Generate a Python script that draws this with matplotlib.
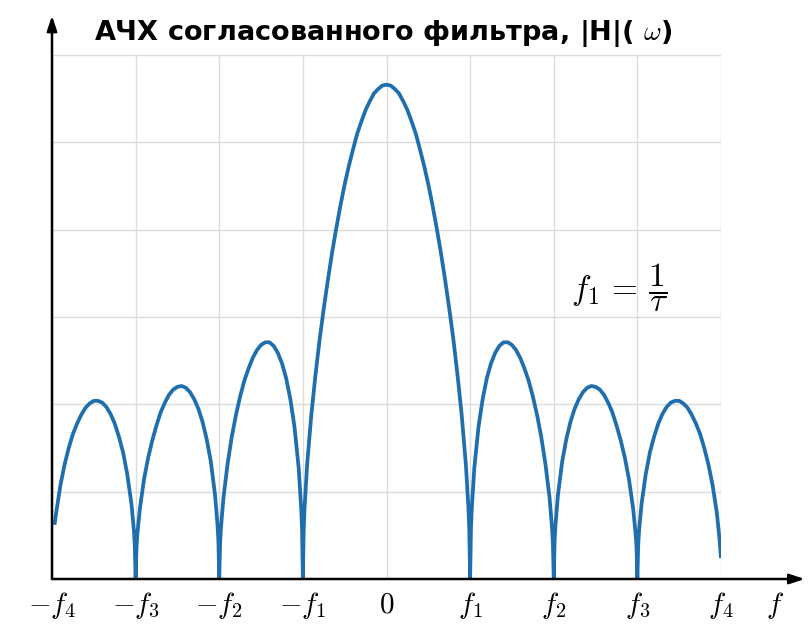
import matplotlib.pyplot as plt

plt.rcParams['mathtext.fontset'] = 'cm'

title = 'АЧХ согласованного фильтра, |H|( $\\omega$)'
tick_pos = [-4, -3, -2, -1, 0, 1, 2, 3, 4]
tick_labels = ['$-f_4$', '$-f_3$', '$-f_2$', '$-f_1$', '$0$',
               '$f_1$', '$f_2$', '$f_3$', '$f_4$']

# frequency in units of f1, amplitude in grid cells
f_left = [-3.97, -3.95, -3.9, -3.85, -3.8, -3.75, -3.7, -3.65, -3.6, -3.55,
          -3.5, -3.45, -3.4, -3.35, -3.3, -3.25, -3.2, -3.15, -3.1, -3.05,
          -3.02, -3.01, -3.0,
          -2.99, -2.98, -2.95, -2.9, -2.85, -2.8, -2.75, -2.7, -2.65, -2.6,
          -2.55, -2.5, -2.45, -2.4, -2.35, -2.3, -2.25, -2.2, -2.15, -2.1,
          -2.05, -2.02, -2.01, -2.0,
          -1.99, -1.98, -1.95, -1.9, -1.85, -1.8, -1.75, -1.7, -1.65, -1.6,
          -1.55, -1.5, -1.45, -1.4, -1.35, -1.3, -1.25, -1.2, -1.15, -1.1,
          -1.05, -1.02, -1.01, -1.0,
          -0.99, -0.98, -0.95, -0.9, -0.85, -0.8, -0.75, -0.7, -0.65, -0.6,
          -0.55, -0.5, -0.45, -0.4, -0.35, -0.3, -0.25, -0.2, -0.15, -0.1,
          -0.05]
h_left = [0.62, 0.76, 1.07, 1.31, 1.50, 1.66, 1.78, 1.88, 1.96, 2.01,
          2.04, 2.04, 2.02, 1.97, 1.89, 1.78, 1.63, 1.45, 1.20, 0.86,
          0.55, 0.39, 0.0,
          0.36, 0.51, 0.80, 1.14, 1.39, 1.59, 1.76, 1.91, 2.02, 2.11,
          2.17, 2.20, 2.21, 2.19, 2.14, 2.06, 1.95, 1.80, 1.60, 1.34,
          0.96, 0.61, 0.43, 0.0,
          0.41, 0.58, 0.93, 1.32, 1.63, 1.88, 2.09, 2.27, 2.41, 2.53,
          2.62, 2.68, 2.71, 2.71, 2.67, 2.59, 2.47, 2.30, 2.06, 1.74,
          1.27, 0.81, 0.58, 0.0,
          0.57, 0.81, 1.30, 1.87, 2.33, 2.74, 3.10, 3.43, 3.74, 4.02,
          4.28, 4.52, 4.73, 4.92, 5.10, 5.24, 5.37, 5.47, 5.56, 5.61,
          5.65]

f_right = [0.0, 0.05, 0.1, 0.15, 0.2, 0.25, 0.3, 0.35, 0.4, 0.45, 0.5, 0.55,
           0.6, 0.65, 0.7, 0.75, 0.8, 0.85, 0.9, 0.95, 0.98, 0.99, 1.0,
           1.01, 1.02, 1.05, 1.1, 1.15, 1.2, 1.25, 1.3, 1.35, 1.4, 1.45,
           1.5, 1.55, 1.6, 1.65, 1.7, 1.75, 1.8, 1.85, 1.9, 1.95, 1.98,
           1.99, 2.0,
           2.01, 2.02, 2.05, 2.1, 2.15, 2.2, 2.25, 2.3, 2.35, 2.4, 2.45,
           2.5, 2.55, 2.6, 2.65, 2.7, 2.75, 2.8, 2.85, 2.9, 2.95, 2.98,
           2.99, 3.0,
           3.01, 3.02, 3.05, 3.1, 3.15, 3.2, 3.25, 3.3, 3.35, 3.4, 3.45,
           3.5, 3.55, 3.6, 3.65, 3.7, 3.75, 3.8, 3.85, 3.9, 3.95, 3.98,
           4.0]
h_right = [5.66, 5.65, 5.61, 5.56, 5.47, 5.37, 5.24, 5.10, 4.92, 4.73, 4.52,
           4.28, 4.02, 3.74, 3.43, 3.10, 2.74, 2.33, 1.87, 1.30, 0.81, 0.57,
           0.0,
           0.58, 0.81, 1.27, 1.74, 2.06, 2.30, 2.47, 2.59, 2.67, 2.71, 2.71,
           2.68, 2.62, 2.53, 2.41, 2.27, 2.09, 1.88, 1.63, 1.32, 0.93, 0.58,
           0.41, 0.0,
           0.43, 0.61, 0.96, 1.34, 1.60, 1.80, 1.95, 2.06, 2.14, 2.19, 2.21,
           2.20, 2.17, 2.11, 2.02, 1.91, 1.76, 1.59, 1.39, 1.14, 0.80, 0.51,
           0.36, 0.0,
           0.39, 0.55, 0.86, 1.20, 1.45, 1.63, 1.78, 1.89, 1.97, 2.02, 2.04,
           2.04, 2.01, 1.96, 1.88, 1.78, 1.66, 1.50, 1.31, 1.07, 0.76, 0.48,
           0.24]

fig = plt.figure(figsize=(8.1, 6.33), dpi=100)
ax = fig.add_axes([52/810, 54/633, 669/810, 524/633])

ax.plot(f_left + f_right, h_left + h_right, color='#1f6eae', lw=2.7,
        solid_capstyle='butt', solid_joinstyle='round', zorder=3)

ax.set_xlim(-4, 4)
ax.set_ylim(0, 6)
ax.set_xticks(tick_pos)
ax.set_xticklabels(tick_labels, fontsize=21)
ax.set_yticks(range(7))
ax.set_yticklabels([])
ax.tick_params(length=0, pad=8)
ax.grid(True, color='#dcdcdc', lw=1)
for s in ax.spines.values():
    s.set_visible(False)

# axis arrows
arr = dict(arrowstyle='-|>,head_length=0.9,head_width=0.3', color='black',
           lw=1.8, shrinkA=0, shrinkB=0)
ax.annotate('', xy=(5.0, 0), xytext=(-4, 0), arrowprops=arr,
            annotation_clip=False)
ax.annotate('', xy=(-4, 6.45), xytext=(-4, 0), arrowprops=arr,
            annotation_clip=False)
ax.text(4.65, -0.3, '$f$', fontsize=21, ha='center', va='center')

ax.text(-3.5, 6.25, title, fontsize=19.5, fontweight='bold',
        family=['DejaVu Sans'], ha='left', va='center')
ax.text(2.21, 3.33, r'$f_1\,=\,\dfrac{1}{\tau}$', fontsize=24,
        ha='left', va='center')

fig.savefig('out.png', dpi=100)
